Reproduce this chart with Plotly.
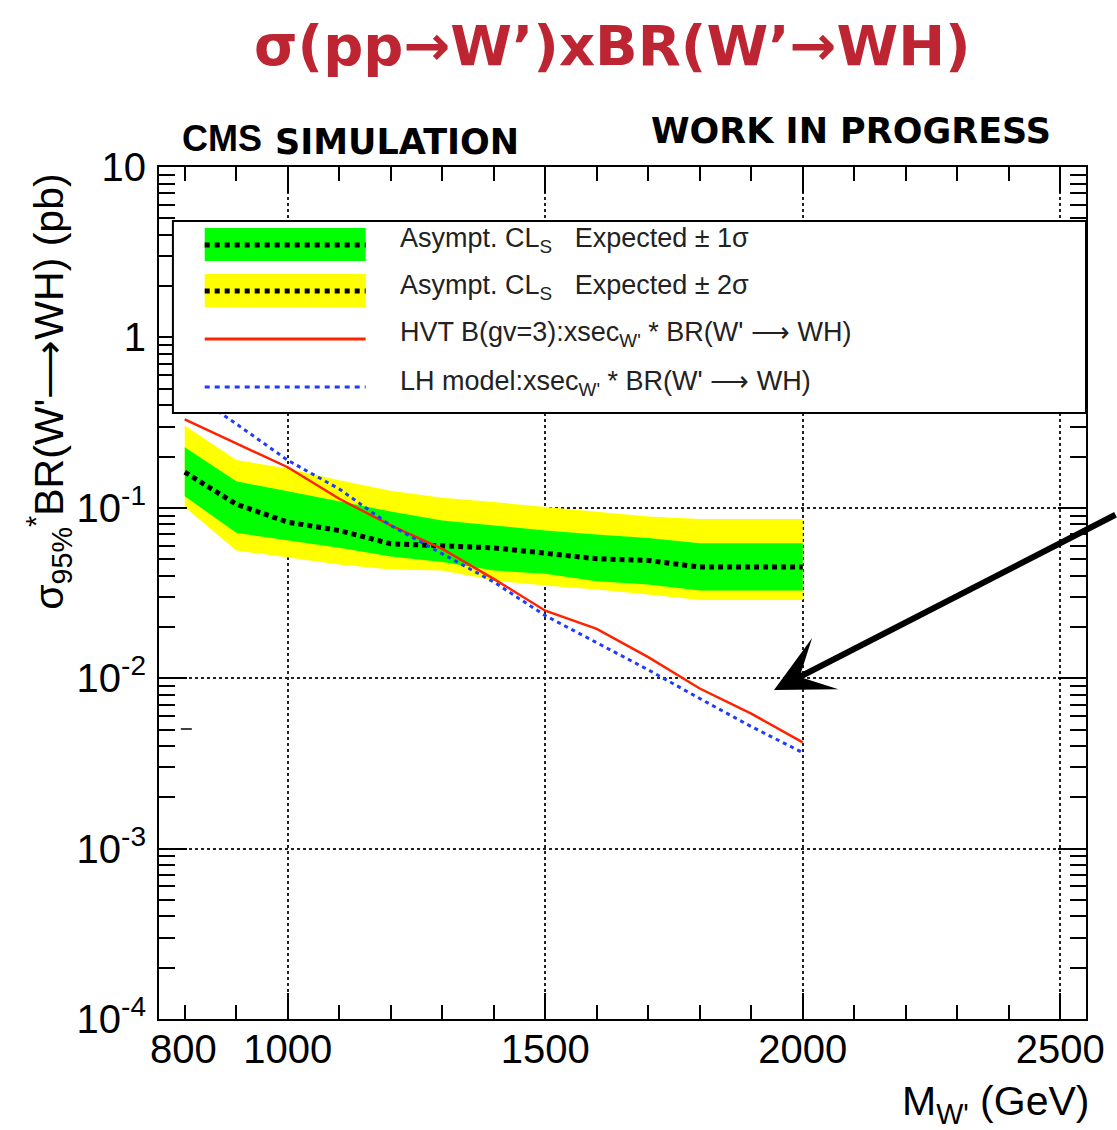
import plotly.graph_objects as go

# ---------------- data ----------------
mass = [800, 900, 1000, 1100, 1200, 1300, 1400, 1500, 1600, 1700, 1800, 1900, 2000]
exp_median = [0.162, 0.105, 0.0824, 0.0736, 0.0615, 0.0598, 0.0582, 0.0542, 0.0502, 0.0491, 0.0449, 0.0449, 0.0449]
exp_p1 = [0.227, 0.143, 0.125, 0.109, 0.0952, 0.0843, 0.0788, 0.0736, 0.0697, 0.0666, 0.0620, 0.0620, 0.0620]
exp_m1 = [0.117, 0.0713, 0.0643, 0.0582, 0.0518, 0.0480, 0.0428, 0.0410, 0.0371, 0.0355, 0.0327, 0.0327, 0.0327]
exp_p2 = [0.304, 0.191, 0.170, 0.145, 0.126, 0.1145, 0.108, 0.101, 0.0944, 0.0889, 0.0861, 0.0861, 0.0861]
exp_m2 = [0.101, 0.0562, 0.0513, 0.0465, 0.0434, 0.0428, 0.0374, 0.0350, 0.0332, 0.0310, 0.0288, 0.0288, 0.0288]
hvt_xsec = [0.330, 0.240, 0.173, 0.113, 0.0788, 0.0574, 0.0383, 0.0249, 0.0195, 0.0133, 0.0087, 0.0062, 0.0042]
lh_xsec = [0.50, 0.311, 0.190, 0.129, 0.0787, 0.0537, 0.0367, 0.0233, 0.0162, 0.0112, 0.0076, 0.0052, 0.00366]

x_tickvals = [1000, 1500, 2000, 2500]
x_ticktext = ["1000", "1500", "2000", "2500"]
y_tickvals = [1e-4, 1e-3, 1e-2, 1e-1, 1, 10]
y_ticktext = ["10<sup>-4</sup>", "10<sup>-3</sup>", "10<sup>-2</sup>", "10<sup>-1</sup>", "1", "10"]

legend_labels = [
    "Asympt. CL<sub>S</sub>&nbsp;&nbsp; Expected ± 1σ",
    "Asympt. CL<sub>S</sub>&nbsp;&nbsp; Expected ± 2σ",
    "HVT B(gv=3):xsec<sub>W'</sub> * BR(W' ⟶ WH)",
    "LH model:xsec<sub>W'</sub> * BR(W' ⟶ WH)",
]

# ---------------- geometry helpers (pixel -> paper) ----------------
W_FIG, H_FIG = 1117, 1130
L, T, PW, PH = 159, 167, 933, 852


def xp(px):
    return (px - L) / PW


def yp(py):
    return (T + PH - py) / PH


GREEN = "#00FF00"
YELLOW = "#FFFF00"
RED = "#FF2200"
BLUE = "#1E3CFF"
FONT = "Liberation Sans"

fig = go.Figure()

fig.add_trace(go.Scatter(x=mass + mass[::-1], y=exp_p2 + exp_m2[::-1], fill="toself",
                         fillcolor=YELLOW, line=dict(width=0), mode="lines",
                         hoverinfo="skip", showlegend=False))
fig.add_trace(go.Scatter(x=mass + mass[::-1], y=exp_p1 + exp_m1[::-1], fill="toself",
                         fillcolor=GREEN, line=dict(width=0), mode="lines",
                         hoverinfo="skip", showlegend=False))
fig.add_trace(go.Scatter(x=mass, y=exp_median, mode="lines",
                         line=dict(color="black", width=5, dash="5px,4px"), showlegend=False))
fig.add_trace(go.Scatter(x=mass, y=hvt_xsec, mode="lines",
                         line=dict(color=RED, width=2.5), showlegend=False))
fig.add_trace(go.Scatter(x=mass, y=lh_xsec, mode="lines",
                         line=dict(color=BLUE, width=3, dash="4px,4px"), showlegend=False))

minor_y = [m * 10.0 ** e for e in range(-4, 1) for m in range(2, 10)]

fig.update_layout(
    width=W_FIG, height=H_FIG,
    margin=dict(l=L, r=W_FIG - L - PW, t=T, b=H_FIG - T - PH),
    paper_bgcolor="white", plot_bgcolor="white",
    showlegend=False,
    xaxis=dict(range=[750, 2550], tickmode="array", tickvals=x_tickvals, ticktext=x_ticktext,
               ticks="inside", ticklen=26, tickwidth=1.5, tickcolor="black",
               showline=True, linecolor="black", linewidth=2, mirror="allticks",
               showgrid=True, gridcolor="#222", griddash="dot", gridwidth=1.5,
               zeroline=False,
               minor=dict(dtick=100, tick0=0, ticks="inside", ticklen=14, tickwidth=1.5,
                          tickcolor="black", showgrid=False),
               tickfont=dict(family=FONT, size=40, color="black"), ticklabelstandoff=-6),
    yaxis=dict(type="log", range=[-4, 1], tickmode="array", tickvals=y_tickvals, ticktext=y_ticktext,
               ticks="inside", ticklen=28, tickwidth=1.5, tickcolor="black",
               showline=True, linecolor="black", linewidth=2, mirror="allticks",
               showgrid=True, gridcolor="#222", griddash="dot", gridwidth=1.5,
               zeroline=False,
               minor=dict(tickmode="array", tickvals=minor_y, ticks="inside", ticklen=16,
                          tickwidth=1.5, tickcolor="black", showgrid=False),
               tickfont=dict(family=FONT, size=40, color="black"), ticklabelstandoff=3),
)

shapes = []
annotations = []

# legend box
shapes.append(dict(type="rect", xref="paper", yref="paper", x0=xp(173), x1=xp(1092),
                   y0=yp(413), y1=yp(221), fillcolor="white",
                   line=dict(color="black", width=2), layer="above"))
# swatches
shapes.append(dict(type="rect", xref="paper", yref="paper", x0=xp(205), x1=xp(367),
                   y0=yp(261), y1=yp(228), fillcolor=GREEN, line=dict(width=0), layer="above"))
shapes.append(dict(type="line", xref="paper", yref="paper", x0=xp(205), x1=xp(367),
                   y0=yp(245), y1=yp(245), line=dict(color="black", width=5, dash="5px,5px"),
                   layer="above"))
shapes.append(dict(type="rect", xref="paper", yref="paper", x0=xp(205), x1=xp(367),
                   y0=yp(307), y1=yp(274), fillcolor=YELLOW, line=dict(width=0), layer="above"))
shapes.append(dict(type="line", xref="paper", yref="paper", x0=xp(205), x1=xp(367),
                   y0=yp(291), y1=yp(291), line=dict(color="black", width=5, dash="5px,5px"),
                   layer="above"))
shapes.append(dict(type="line", xref="paper", yref="paper", x0=xp(205), x1=xp(367),
                   y0=yp(339), y1=yp(339), line=dict(color=RED, width=3), layer="above"))
shapes.append(dict(type="line", xref="paper", yref="paper", x0=xp(205), x1=xp(367),
                   y0=yp(387), y1=yp(387), line=dict(color=BLUE, width=3, dash="5px,5px"),
                   layer="above"))
# small stray mark in the original
shapes.append(dict(type="line", xref="paper", yref="paper", x0=xp(181), x1=xp(192),
                   y0=yp(729), y1=yp(729), line=dict(color="black", width=1.5), layer="above"))

row_y = [240, 287, 334, 383]
for lbl, ry in zip(legend_labels, row_y):
    annotations.append(dict(xref="paper", yref="paper", x=xp(400), y=yp(ry), text=lbl,
                            showarrow=False, xanchor="left", yanchor="middle",
                            font=dict(family=FONT, size=27, color="#222")))

# 800 tick label (no grid line at 800 in the original)
annotations.append(dict(xref="x", yref="paper", x=797, y=yp(1049), text="800", showarrow=False,
                        xanchor="center", yanchor="middle",
                        font=dict(family=FONT, size=40, color="black")))

# axis titles
annotations.append(dict(xref="paper", yref="paper", x=xp(48), y=yp(392),
                        text="σ<sub>95%</sub><sup>*</sup>BR(W'⟶WH) (pb)", textangle=-90,
                        showarrow=False, xanchor="center", yanchor="middle",
                        font=dict(family=FONT, size=41, color="black")))
annotations.append(dict(xref="paper", yref="paper", x=xp(1097), y=yp(1104),
                        text="M<sub>W'</sub> (GeV)", showarrow=False,
                        xanchor="right", yanchor="middle",
                        font=dict(family=FONT, size=41, color="black")))

# header texts
annotations.append(dict(xref="paper", yref="paper", x=xp(615), y=yp(45),
                        text="<b>σ(pp→W’)xBR(W’→WH)</b>", showarrow=False,
                        xanchor="center", yanchor="middle",
                        font=dict(family="DejaVu Sans", size=56, color="#BE2533")))
annotations.append(dict(xref="paper", yref="paper", x=xp(222), y=yp(139),
                        text="<b>CMS</b>", showarrow=False, xanchor="center", yanchor="middle",
                        font=dict(family=FONT, size=36, color="black")))
annotations.append(dict(xref="paper", yref="paper", x=xp(399), y=yp(142),
                        text="<b>SIMULATION</b>", showarrow=False, xanchor="center", yanchor="middle",
                        font=dict(family="DejaVu Sans", size=35, color="black")))
annotations.append(dict(xref="paper", yref="paper", x=xp(855), y=yp(131),
                        text="<b>WORK IN PROGRESS</b>", showarrow=False, xanchor="center",
                        yanchor="middle",
                        font=dict(family="DejaVu Sans", size=35, color="black")))

# arrow
annotations.append(dict(xref="paper", yref="paper", x=xp(778), y=yp(690), text="",
                        showarrow=True, arrowhead=3, arrowwidth=6, arrowsize=1.6,
                        arrowcolor="black", ax=347, ay=-176, axref="pixel", ayref="pixel",
                        standoff=0))

fig.update_layout(shapes=shapes, annotations=annotations)
fig.write_html("out.html")
